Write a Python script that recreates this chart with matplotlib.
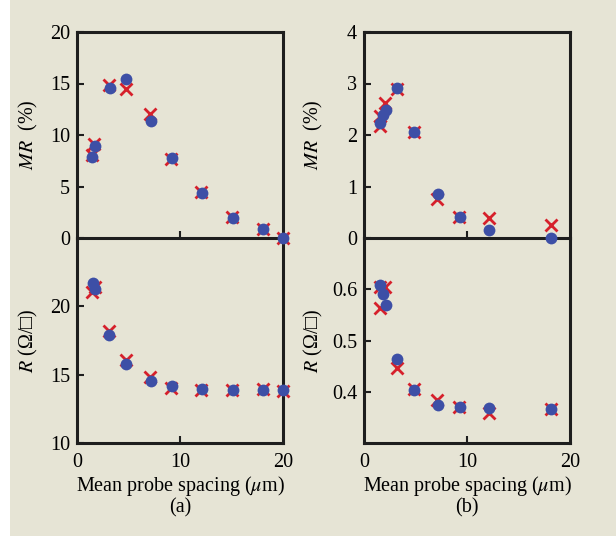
import matplotlib
matplotlib.use("Agg")
import matplotlib.pyplot as plt
from matplotlib.patches import Rectangle

plt.rcParams.update({
    "font.family": ["Liberation Serif", "DejaVu Serif"],
    "mathtext.fontset": "stix",
    "font.size": 14.5,
})

# ---- panel (a) data ----
a_mr_circ_x = [1.5, 1.7, 3.2, 4.8, 7.15, 9.2, 12.1, 15.1, 18.1, 20.0]
a_mr_circ_y = [7.9, 8.9, 14.6, 15.4, 11.4, 7.8, 4.4, 1.9, 0.85, 0.0]
a_mr_x_x = [1.5, 1.65, 3.15, 4.8, 7.05, 9.1, 12.05, 15.05, 18.05, 20.0]
a_mr_x_y = [8.1, 9.1, 14.9, 14.5, 12.0, 7.7, 4.5, 2.0, 0.9, 0.0]

a_r_circ_x = [1.55, 1.75, 3.15, 4.8, 7.15, 9.2, 12.1, 15.1, 18.1, 20.0]
a_r_circ_y = [21.7, 21.25, 17.9, 15.8, 14.55, 14.15, 13.95, 13.88, 13.9, 13.88]
a_r_x_x = [1.45, 1.7, 3.15, 4.75, 7.05, 9.1, 12.05, 15.05, 18.05, 20.0]
a_r_x_y = [21.05, 21.4, 18.2, 16.05, 14.85, 14.05, 13.9, 13.9, 13.95, 13.8]

# ---- panel (b) data ----
b_mr_circ_x = [1.55, 1.8, 2.1, 3.25, 4.9, 7.2, 9.3, 12.1, 18.2]
b_mr_circ_y = [2.24, 2.39, 2.49, 2.92, 2.06, 0.85, 0.40, 0.15, 0.0]
b_mr_x_x = [1.6, 1.6, 2.05, 3.2, 4.9, 7.1, 9.25, 12.1, 18.15]
b_mr_x_y = [2.17, 2.36, 2.63, 2.89, 2.06, 0.75, 0.40, 0.38, 0.25]

b_r_circ_x = [1.55, 1.8, 2.1, 3.25, 4.9, 7.2, 9.3, 12.1, 18.2]
b_r_circ_y = [0.608, 0.590, 0.569, 0.464, 0.403, 0.374, 0.370, 0.368, 0.366]
b_r_x_x = [1.55, 2.05, 1.6, 3.2, 4.85, 7.1, 9.25, 12.1, 18.15]
b_r_x_y = [0.604, 0.605, 0.563, 0.447, 0.405, 0.383, 0.370, 0.359, 0.366]

BG = "#E6E4D5"
BLUE = "#3D4FA6"
RED = "#D6202B"
INK = "#1E1E1E"

fig = plt.figure(figsize=(6.16, 5.36), dpi=100, facecolor=BG)
fig.patches.append(Rectangle((0, 0), 10 / 616, 1, transform=fig.transFigure,
                             facecolor="white", edgecolor="none", zorder=-1))

W = 206 / 616
H_TOP = (238 - 32) / 536
H_BOT = (443 - 238) / 536
Y_MID = 1 - 238 / 536
Y_BOT = 1 - 443 / 536


def style(ax):
    ax.patch.set_visible(False)
    for s in ax.spines.values():
        s.set_linewidth(2.2)
        s.set_color(INK)
    ax.tick_params(direction="in", length=5, width=1.5, color=INK,
                   labelsize=14.5, pad=5)
    ax.set_xlim(0, 20)


def pts(ax, cx, cy, xx, xy):
    ax.plot(xx, xy, "x", ms=8.5, mew=2.0, color=RED, clip_on=False, zorder=3)
    ax.plot(cx, cy, "o", ms=8.5, color=BLUE, mec="none", clip_on=False, zorder=4)


def panel(left, top_data, bot_data, mr_lim, mr_ticks, r_lim, r_ticks, r_labels,
          label_x, tag):
    ax2 = fig.add_axes([left, Y_BOT, W, H_BOT])
    ax1 = fig.add_axes([left, Y_MID, W, H_TOP])
    style(ax1); style(ax2)

    ax1.set_ylim(*mr_lim)
    ax1.set_yticks(mr_ticks)
    ax1.set_xticks([10])
    ax1.tick_params(axis="x", labelbottom=False)
    ax1.set_ylabel(r"$MR$  (%)")
    ax1.yaxis.set_label_coords(label_x, 0.5)
    pts(ax1, *top_data)

    ax2.set_ylim(*r_lim)
    ax2.set_yticks(r_ticks)
    ax2.set_yticklabels(r_labels)
    ax2.spines["top"].set_visible(False)
    ax2.set_xticks([0, 10, 20])
    ax2.tick_params(axis="x", pad=7)
    for t, lab in zip(ax2.xaxis.get_major_ticks(), [0, 10, 20]):
        if lab != 10:
            t.tick1line.set_visible(False)
    ax2.set_xlabel(r"Mean probe spacing ($\mu$m)", labelpad=2)
    ax2.set_ylabel("$R$ (\u03a9/\u25a1)")
    ax2.yaxis.set_label_coords(label_x, 0.5)
    pts(ax2, *bot_data)

    fig.text(left + W / 2, 1 - 508 / 536, tag, ha="center", va="center", fontsize=14.5)


panel(77 / 616,
      (a_mr_circ_x, a_mr_circ_y, a_mr_x_x, a_mr_x_y),
      (a_r_circ_x, a_r_circ_y, a_r_x_x, a_r_x_y),
      (0, 20), [0, 5, 10, 15, 20],
      (10, 25), [10, 15, 20], ["10", "15", "20"],
      -0.18, "(a)")

panel(364 / 616,
      (b_mr_circ_x, b_mr_circ_y, b_mr_x_x, b_mr_x_y),
      (b_r_circ_x, b_r_circ_y, b_r_x_x, b_r_x_y),
      (0, 4), [0, 1, 2, 3, 4],
      (0.3, 0.7), [0.4, 0.5, 0.6], ["0.4", "0.5", "0.6"],
      -0.19, "(b)")

fig.savefig("out.png", dpi=100, facecolor=BG)
